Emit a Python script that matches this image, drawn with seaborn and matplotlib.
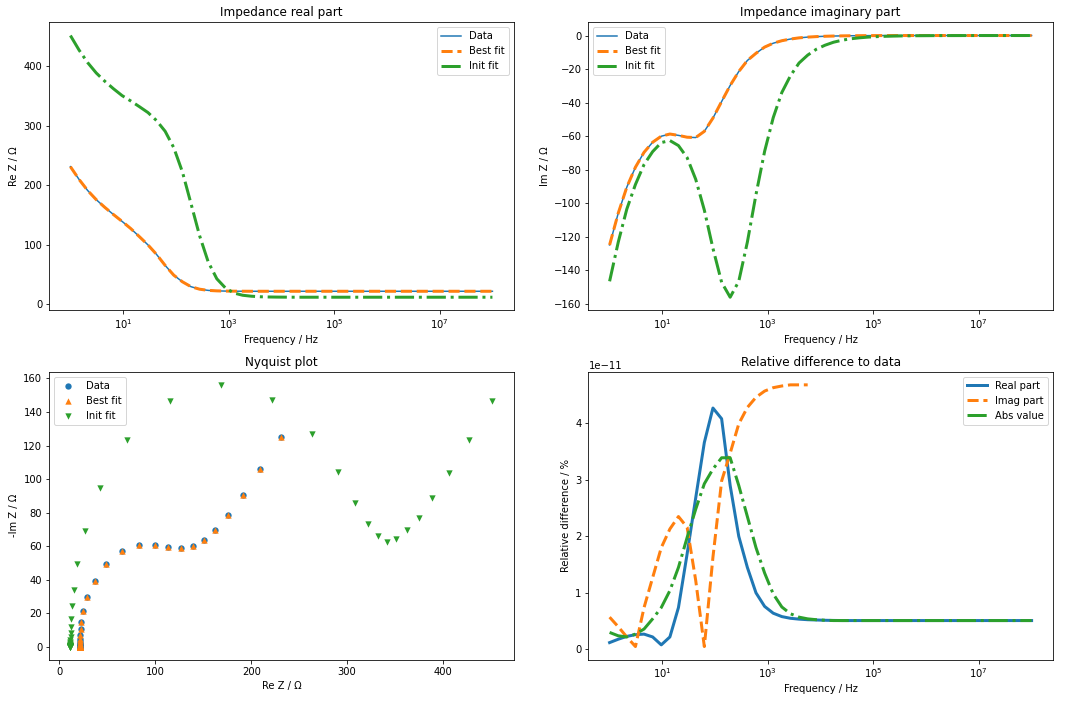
import numpy as np
import matplotlib
matplotlib.use("Agg")
import matplotlib.pyplot as plt
import matplotlib.ticker as mticker
import seaborn as sns

# frequency sweep, 50 points from 1 Hz to 100 MHz
freq = [1.0, 1.46, 2.12, 3.09, 4.50, 6.55, 9.54, 13.9, 20.2, 29.5,
        42.9, 62.5, 91.0, 133, 193, 281, 409, 596, 869, 1265,
        1842, 2683, 3907, 5690, 8286, 1.21e4, 1.76e4, 2.56e4, 3.73e4, 5.43e4,
        7.91e4, 1.15e5, 1.68e5, 2.44e5, 3.56e5, 5.18e5, 7.54e5, 1.10e6, 1.60e6, 2.33e6,
        3.39e6, 4.94e6, 7.20e6, 1.05e7, 1.53e7, 2.22e7, 3.24e7, 4.71e7, 6.87e7, 1.0e8]

re_data = [231, 209.5, 191, 175.5, 162.5, 150.5, 139, 127, 113.5, 99.5,
           83.5, 65, 48.6, 37.4, 29.2, 25, 23, 22.2, 21.8, 21.65,
           21.55, 21.5, 21.5, 21.5, 21.5, 21.5, 21.5, 21.5, 21.5, 21.5,
           21.5, 21.5, 21.5, 21.5, 21.5, 21.5, 21.5, 21.5, 21.5, 21.5,
           21.5, 21.5, 21.5, 21.5, 21.5, 21.5, 21.5, 21.5, 21.5, 21.5]
im_data = [-125, -106, -90.5, -78.6, -69.7, -63.7, -60.1, -58.8, -59.6, -60.7,
           -60.9, -57.2, -49.3, -39.4, -29.8, -21.5, -14.9, -10.6, -6.9, -4.6,
           -3.1, -2.1, -1.4, -0.95, -0.65, -0.45, -0.31, -0.21, -0.14, -0.1,
           -0.07, -0.05, -0.03, -0.02, -0.015, -0.01, -0.007, -0.005, -0.003, -0.002,
           -0.0015, -0.001, -0.0007, -0.0005, -0.0003, -0.0002, -0.00015, -0.0001, -0.00007, -0.00005]

# best fit is identical to the data at plotting precision
re_best = list(re_data)
im_best = list(im_data)

re_init = [451.5, 427, 406, 388.5, 374.5, 362, 350.5, 341.5, 332, 322,
           308.5, 290.5, 263, 222, 169, 115, 71, 42.5, 27, 18.5,
           14.8, 13.2, 12.3, 11.9, 11.7, 11.6, 11.5, 11.5, 11.5, 11.5,
           11.5, 11.5, 11.5, 11.5, 11.5, 11.5, 11.5, 11.5, 11.5, 11.5,
           11.5, 11.5, 11.5, 11.5, 11.5, 11.5, 11.5, 11.5, 11.5, 11.5]
im_init = [-146.7, -123.3, -103.6, -88.9, -77.0, -69.3, -63.9, -62.7, -65.7, -72.9,
           -85.8, -104.2, -127.0, -147.3, -156.2, -146.7, -123.3, -94.9, -69.1, -49.0,
           -34.0, -24.0, -16.4, -11.7, -8.2, -5.8, -4.0, -2.8, -1.95, -1.37,
           -0.96, -0.67, -0.47, -0.33, -0.23, -0.16, -0.11, -0.08, -0.055, -0.04,
           -0.03, -0.02, -0.014, -0.01, -0.007, -0.005, -0.0035, -0.0025, -0.0017, -0.0012]

# relative differences, in units of 1e-11 %
rel_real = [0.12, 0.18, 0.23, 0.26, 0.27, 0.22, 0.08, 0.22, 0.74, 1.69,
            2.68, 3.66, 4.27, 4.08, 2.9, 2.0, 1.45, 1.0, 0.76, 0.64,
            0.58, 0.55, 0.535, 0.525, 0.52, 0.515, 0.512, 0.51, 0.51, 0.51,
            0.51, 0.51, 0.51, 0.51, 0.51, 0.51, 0.51, 0.51, 0.51, 0.51,
            0.51, 0.51, 0.51, 0.51, 0.51, 0.51, 0.51, 0.51, 0.51, 0.51]
rel_imag = [0.57, 0.40, 0.22, 0.05, 0.74, 1.27, 1.8, 2.13, 2.35, 2.16,
            1.22, 0.05, 1.63, 2.98, 3.47, 3.99, 4.28, 4.46, 4.57, 4.63,
            4.66, 4.68, 4.68, 4.68]
rel_abs = [0.30, 0.24, 0.22, 0.27, 0.36, 0.54, 0.74, 1.04, 1.45, 1.98,
           2.48, 2.93, 3.19, 3.39, 3.39, 2.9, 2.35, 1.8, 1.35, 0.98,
           0.75, 0.63, 0.57, 0.54, 0.525, 0.515, 0.51, 0.51, 0.51, 0.51,
           0.51, 0.51, 0.51, 0.51, 0.51, 0.51, 0.51, 0.51, 0.51, 0.51,
           0.51, 0.51, 0.51, 0.51, 0.51, 0.51, 0.51, 0.51, 0.51, 0.51]

freq_ticks = [1e1, 1e3, 1e5, 1e7]

freq = np.array(freq)


def log_freq_axis(ax):
    ax.set_xscale("log")
    ax.xaxis.set_major_locator(mticker.FixedLocator(freq_ticks))
    ax.xaxis.set_major_formatter(mticker.LogFormatterSciNotation())
    ax.xaxis.set_minor_locator(mticker.NullLocator())
    ax.set_xlabel("Frequency / Hz")


fig, axes = plt.subplots(2, 2, figsize=(1072 / 72, 701 / 72), dpi=72)
ax1, ax2, ax3, ax4 = axes.flatten()

# real part
sns.lineplot(x=freq, y=re_data, ax=ax1, color="C0", label="Data")
sns.lineplot(x=freq, y=re_best, ax=ax1, color="C1", linestyle="--", lw=3, label="Best fit")
sns.lineplot(x=freq, y=re_init, ax=ax1, color="C2", linestyle="-.", lw=3, label="Init fit")
log_freq_axis(ax1)
ax1.set_ylabel("Re Z / Ω")
ax1.set_title("Impedance real part")
ax1.legend(loc="upper right")

# imaginary part
sns.lineplot(x=freq, y=im_data, ax=ax2, color="C0", label="Data")
sns.lineplot(x=freq, y=im_best, ax=ax2, color="C1", linestyle="--", lw=3, label="Best fit")
sns.lineplot(x=freq, y=im_init, ax=ax2, color="C2", linestyle="-.", lw=3, label="Init fit")
log_freq_axis(ax2)
ax2.set_ylabel("Im Z / Ω")
ax2.set_title("Impedance imaginary part")
ax2.legend(loc="upper left")

# nyquist
sns.scatterplot(x=re_data, y=-np.array(im_data), ax=ax3, color="C0", marker="o", s=40, linewidth=0, label="Data")
sns.scatterplot(x=re_best, y=-np.array(im_best), ax=ax3, color="C1", marker="^", s=40, linewidth=0, label="Best fit")
sns.scatterplot(x=re_init, y=-np.array(im_init), ax=ax3, color="C2", marker="v", s=40, linewidth=0, label="Init fit")
ax3.set_xlabel("Re Z / Ω")
ax3.set_ylabel("-Im Z / Ω")
ax3.set_title("Nyquist plot")
ax3.legend(loc="upper left")

# relative difference
sns.lineplot(x=freq, y=np.array(rel_real) * 1e-11, ax=ax4, color="C0", lw=3, label="Real part")
sns.lineplot(x=freq[:len(rel_imag)], y=np.array(rel_imag) * 1e-11, ax=ax4, color="C1", linestyle="--", lw=3, label="Imag part")
sns.lineplot(x=freq, y=np.array(rel_abs) * 1e-11, ax=ax4, color="C2", linestyle="-.", lw=3, label="Abs value")
log_freq_axis(ax4)
ax4.set_ylabel("Relative difference / %")
ax4.set_title("Relative difference to data")
ax4.legend(loc="upper right")

fig.subplots_adjust(left=0.046, right=0.982, top=0.968, bottom=0.059,
                    wspace=0.1615, hspace=0.2135)
fig.savefig("out.png", dpi=72)
